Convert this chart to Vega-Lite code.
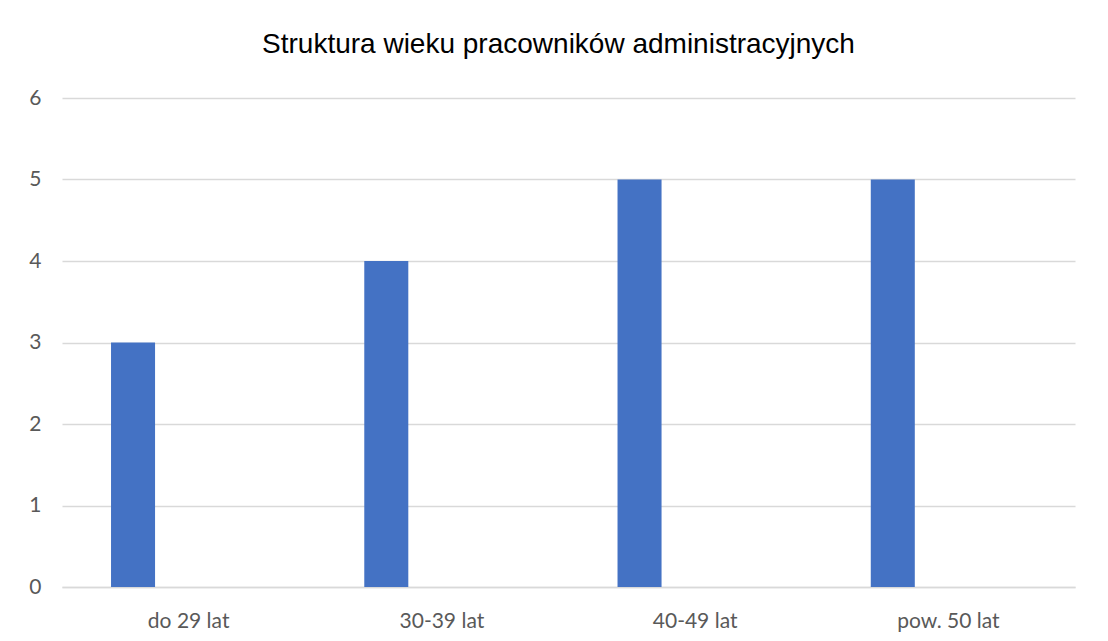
{
  "$schema": "https://vega.github.io/schema/vega-lite/v6.json",
  "autosize": {"type": "none"},
  "width": 1013,
  "height": 489,
  "padding": {"left": 62, "top": 98, "right": 33, "bottom": 54},
  "background": "white",
  "title": {
    "text": "Struktura wieku pracowników administracyjnych",
    "font": "Liberation Sans",
    "fontSize": 28,
    "fontWeight": "normal",
    "color": "#000000",
    "anchor": "middle",
    "frame": "group",
    "baseline": "alphabetic",
    "offset": 6,
    "dx": -10
  },
  "data": {
    "values": [
      {"wiek": "do 29 lat", "seria": "Seria1", "liczba": 3},
      {"wiek": "30-39 lat", "seria": "Seria1", "liczba": 4},
      {"wiek": "40-49 lat", "seria": "Seria1", "liczba": 5},
      {"wiek": "pow. 50 lat", "seria": "Seria1", "liczba": 5}
    ]
  },
  "mark": {"type": "bar", "color": "#4472C4"},
  "encoding": {
    "x": {
      "field": "wiek",
      "type": "nominal",
      "sort": ["do 29 lat", "30-39 lat", "40-49 lat", "pow. 50 lat"],
      "scale": {"paddingInner": 0, "paddingOuter": 0},
      "axis": {
        "title": null,
        "labelAngle": 0,
        "labelFont": "Lato",
        "labelFontSize": 21,
        "labelColor": "#595959",
        "labelPadding": 23,
        "ticks": false,
        "domainColor": "#d9d9d9",
        "domainWidth": 1.5,
        "grid": false
      }
    },
    "xOffset": {
      "field": "seria",
      "type": "nominal",
      "scale": {"domain": ["Seria1", "Seria2"], "paddingInner": 0.604, "paddingOuter": 0.441}
    },
    "y": {
      "field": "liczba",
      "type": "quantitative",
      "scale": {"domain": [0, 6], "nice": false},
      "axis": {
        "title": null,
        "values": [0, 1, 2, 3, 4, 5, 6],
        "labelFont": "Lato",
        "labelFontSize": 21,
        "labelColor": "#595959",
        "labelPadding": 21,
        "ticks": false,
        "domain": false,
        "grid": true,
        "gridColor": "#d9d9d9",
        "gridWidth": 1.5
      }
    }
  },
  "config": {"view": {"stroke": null}}
}
